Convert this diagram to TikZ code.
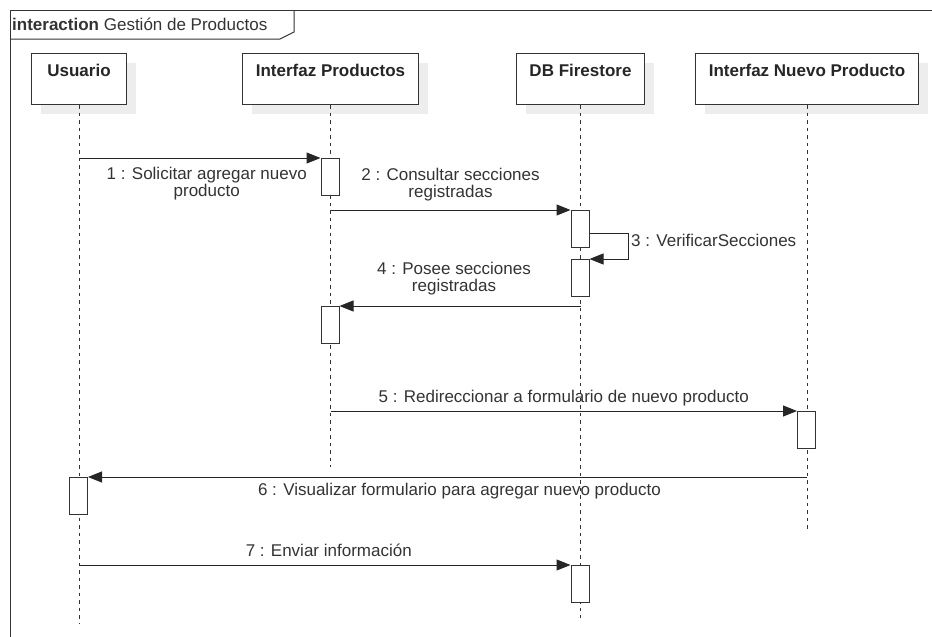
\documentclass[tikz,border=0pt]{standalone}
\usepackage{fontspec}
\setmainfont{Liberation Sans}
\usetikzlibrary{arrows.meta,shadows,positioning}

\begin{document}
\begin{tikzpicture}[x=1pt,y=-1pt,
  txt/.style={text=black!80, font=\fontsize{17}{17}\selectfont, align=center, inner sep=0pt},
  head/.style={draw=black!80, line width=1pt, fill=white, inner sep=0pt, anchor=north west,
    text height=23pt, text depth=28pt, text=black!85, font=\fontsize{17}{17}\selectfont\bfseries,
    drop shadow={shadow xshift=9pt, shadow yshift=-9pt, fill=black!7, opacity=1}},
  life/.style={draw=black!80, line width=0.9pt, dash pattern=on 3.5pt off 4pt},
  act/.style={draw=black!80, line width=1pt, fill=white, minimum width=18pt, minimum height=37pt, inner sep=0pt, anchor=north},
  msg/.style={draw=black!85, line width=1pt, -{Triangle[length=14pt,width=11pt]}}]
  \useasboundingbox (0,0) rectangle (932,637);

  % Frame of the interaction
  \draw[black!80, line width=1pt] (10,637) -- (10,10) -- (932,10);
  \draw[black!80, line width=1pt] (10,39) -- (280,39) -- (294,32) -- (294,10);
  \node[txt, anchor=base west] (title) at (12,30) {\textbf{interaction} Gestión de Productos};

  % Define the lifeline heads
  \node[head, minimum width=95pt] (usuario) at (31,53) {Usuario};
  \node[head, minimum width=176pt] (ip) at (242,53) {Interfaz Productos};
  \node[head, minimum width=128pt] (db) at (516,53) {DB Firestore};
  \node[head, minimum width=223pt] (np) at (695,53) {Interfaz Nuevo Producto};

  % Draw the lifelines
  \path (usuario.south) ++(0,519) coordinate (usuarioEnd);
  \path (ip.south) ++(0,362) coordinate (ipEnd);
  \path (db.south) ++(0,513) coordinate (dbEnd);
  \path (np.south) ++(0,425) coordinate (npEnd);
  \draw[life] (usuario.south) -- (usuarioEnd);
  \draw[life] (ip.south) -- (ipEnd);
  \draw[life] (db.south) -- (dbEnd);
  \draw[life] (np.south) -- (npEnd);

  % Draw the activation boxes
  \node[act] (a1) at (330,158) {};
  \node[act] (a2) at (580,210) {};
  \node[act] (a3) at (580,259) {};
  \node[act] (a4) at (330,306) {};
  \node[act] (a5) at (806.5,411) {};
  \node[act] (a6) at (78.5,477) {};
  \node[act] (a7) at (580,565) {};

  % Draw the messages
  \draw[msg] (usuario.south |- a1.north) -- (a1.north west)
    node[txt, midway, yshift=-26pt, xshift=7pt] (m1) {1 : Solicitar agregar nuevo\\producto};
  \draw[msg] (ip.south |- a2.north) -- (a2.north west)
    node[txt, midway, yshift=25pt] (m2) {2 : Consultar secciones\\registradas};
  \draw[msg] ([yshift=-23pt]a2.north east) -| ([xshift=39pt]a3.north east) -- (a3.north east);
  \node[txt, anchor=west] (m3) at (631,240) {3 : VerificarSecciones};
  \draw[msg] (db.south |- a4.north) -- (a4.north east)
    node[txt, midway, yshift=27pt, xshift=-6pt] (m4) {4 : Posee secciones\\registradas};
  \draw[msg] (ip.south |- a5.north) -- (a5.north west)
    node[txt, midway, yshift=13pt] (m5) {5 : Redireccionar a formulario de nuevo producto};
  \draw[msg] (np.south |- a6.north) -- (a6.north east)
    node[txt, midway, yshift=-14pt, xshift=12pt] (m6) {6 : Visualizar formulario para agregar nuevo producto};
  \draw[msg] (usuario.south |- a7.north) -- (a7.north west)
    node[txt, midway, yshift=15pt, xshift=4pt] (m7) {7 : Enviar información};
\end{tikzpicture}
\end{document}
